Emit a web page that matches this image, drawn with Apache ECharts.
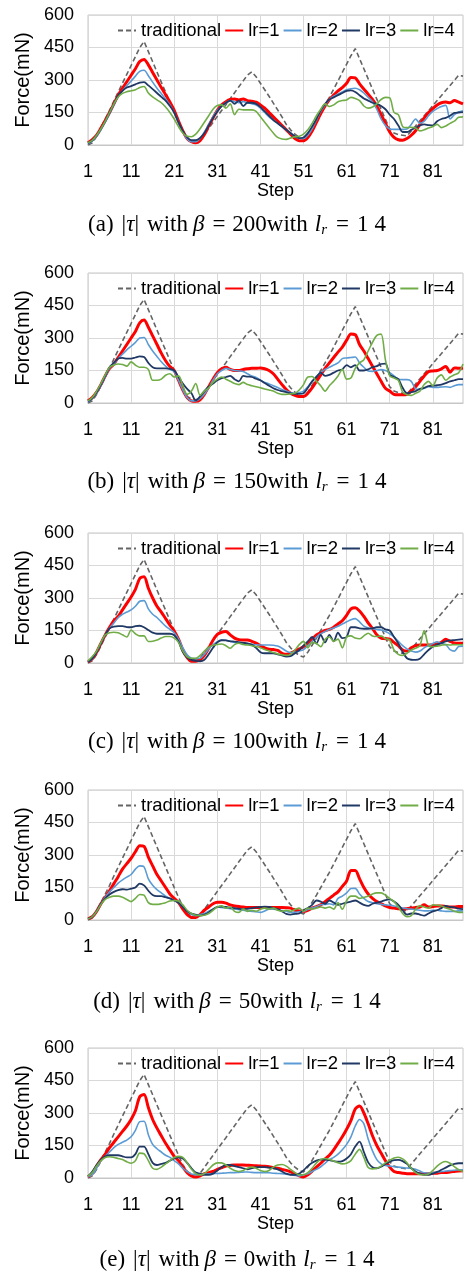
<!DOCTYPE html>
<html><head><meta charset="utf-8">
<script src="https://cdn.jsdelivr.net/npm/echarts@6/dist/echarts.min.js"></script>
<style>html,body{margin:0;padding:0;background:#fff}#c{width:466px;height:1275px}</style>
</head><body><div id="c"></div>
<script>
// ---- data ----
const steps = Array.from({length: 88}, (_, i) => String(i + 1));
const seriesNames = ['traditional', 'lr=1', 'lr=2', 'lr=3', 'lr=4'];
const yTicks = [0, 150, 300, 450, 600];
const panelLetters = ['a', 'b', 'c', 'd', 'e'];
const betas = ['200', '150', '100', '50', '0'];

const traditional = [
0,10,40,80,120,160,203,244,285,326,
367,408,449,478,431,384,337,290,244,197,
150,105,62,30,18,15,22,49,77,104,
132,159,186,214,241,269,296,323,338,315,
285,255,225,193,162,130,95,70,50,35,
28,50,82,115,150,185,220,258,296,335,
373,412,445,398,352,305,258,212,165,118,
75,55,48,45,42,65,88,112,135,158,
182,205,228,252,275,298,322,318];

const a_lr1 = [
10,25,45,78,113,150,190,230,262,292,
322,352,385,395,370,335,300,265,232,198,
160,110,65,30,15,10,20,48,88,125,
160,185,200,210,212,208,212,205,202,198,
185,170,150,130,110,90,70,50,30,20,
20,35,65,105,145,180,210,230,250,265,
285,312,310,282,258,235,210,180,140,100,
60,35,24,22,30,45,66,95,125,150,
168,185,195,198,195,205,198,190];
const a_lr2 = [
5,18,40,70,105,145,185,225,250,275,
295,318,340,345,320,290,262,238,212,185,
150,105,60,28,15,15,30,60,95,130,
160,180,195,205,200,195,200,195,190,185,
170,150,130,115,100,85,70,55,40,30,
30,45,75,115,155,185,210,225,235,245,
255,260,262,255,240,220,200,165,120,90,
74,72,72,72,74,95,120,100,110,135,
155,168,178,183,120,140,152,158];
const a_lr3 = [
8,22,45,75,110,150,190,228,250,265,
272,280,288,290,275,258,240,222,205,180,
150,105,65,35,22,22,32,55,90,125,
155,180,195,205,190,205,180,195,195,190,
175,155,135,115,100,85,70,55,40,32,
35,55,85,120,160,190,210,220,230,240,
250,252,245,230,215,205,195,190,180,165,
140,120,90,60,60,70,80,90,95,92,
90,110,120,125,135,148,150,152];
const a_lr4 = [
10,22,45,75,110,150,190,222,238,246,
250,255,265,270,240,222,208,195,175,150,
120,85,55,40,38,50,75,105,135,165,
182,185,170,190,140,165,162,162,162,155,
130,105,80,55,35,28,26,32,38,40,
50,70,100,135,165,190,178,185,200,205,
208,220,215,205,180,170,175,190,210,220,
218,150,140,85,80,82,78,65,70,78,
85,95,80,88,100,110,128,130];

const b_lr1 = [
10,25,50,85,125,160,180,210,240,270,
300,330,370,383,350,310,270,230,195,168,
150,105,60,25,10,8,15,40,75,110,
140,158,165,155,150,150,155,158,160,160,
162,158,150,135,110,85,62,45,35,30,
30,45,70,100,130,160,185,210,235,258,
290,318,315,270,240,205,170,135,100,68,
55,40,38,38,40,55,75,100,125,145,
148,150,158,168,142,162,160,160];
const b_lr2 = [
5,20,45,80,120,160,180,205,225,245,
262,280,300,302,270,240,215,190,170,155,
145,105,60,25,10,10,20,40,70,105,
135,150,160,155,150,148,145,135,125,118,
105,95,88,80,72,62,55,48,45,48,
55,75,100,123,140,155,165,175,185,205,
208,210,212,185,165,148,146,150,154,150,
140,125,110,108,108,100,65,62,68,75,
72,72,74,75,72,80,85,85];
const b_lr3 = [
8,22,50,85,125,165,185,205,208,205,
205,210,215,212,185,165,160,160,160,158,
150,120,90,65,45,12,30,55,75,90,
105,115,120,125,110,100,125,122,120,112,
105,92,80,68,60,55,50,45,42,42,
45,70,100,120,140,125,130,140,150,155,
175,165,175,150,150,155,165,170,180,182,
130,120,110,70,45,50,55,65,70,78,
80,82,85,92,100,105,110,110];
const b_lr4 = [
10,25,55,90,130,165,175,180,178,170,
190,175,165,165,155,105,105,110,128,135,
120,125,80,40,55,90,35,55,70,95,
110,120,110,100,90,85,95,85,80,75,
70,65,60,55,45,40,40,42,45,60,
85,120,122,100,80,55,80,100,125,155,
110,115,160,185,200,240,280,312,318,200,
125,115,105,50,38,35,45,55,85,100,
80,115,130,105,120,130,140,180];

const c_lr1 = [
5,20,50,90,130,165,195,215,245,275,
305,340,390,398,345,300,262,235,205,175,
148,110,60,25,8,8,15,35,68,105,
132,142,145,130,115,108,106,106,100,92,
80,70,64,62,58,45,40,45,55,65,
75,90,110,130,140,150,155,165,180,195,
220,250,255,240,215,185,160,130,115,112,
110,95,80,60,55,70,80,83,83,83,
85,88,95,110,100,92,91,91];
const c_lr2 = [
5,20,50,90,130,160,185,210,225,235,
245,262,285,288,250,225,210,190,170,155,
140,110,70,38,22,20,22,40,65,85,
98,106,105,100,95,92,90,88,86,84,
83,83,83,82,78,68,55,48,50,55,
62,80,100,120,135,145,155,162,170,180,
190,200,205,190,170,162,158,155,152,145,
135,120,100,80,65,55,50,55,70,80,
90,98,90,85,62,55,76,78];
const c_lr3 = [
5,20,50,90,130,160,168,170,170,166,
165,170,172,165,152,140,135,135,135,135,
128,100,50,25,14,10,8,15,40,70,
95,105,104,100,99,96,93,91,85,70,
50,45,45,45,40,35,30,32,45,60,
80,100,120,90,130,95,130,100,140,115,
120,165,165,160,158,158,160,165,165,155,
150,120,90,50,22,15,14,20,40,60,
75,85,92,100,104,106,108,110];
const c_lr4 = [
10,30,55,95,130,140,142,140,130,120,
152,135,125,125,99,100,106,115,122,122,
115,95,55,28,22,22,35,55,72,82,
85,88,80,68,85,91,85,83,80,76,
70,62,55,48,42,38,35,40,60,85,
100,70,95,90,75,110,120,100,110,70,
120,125,115,112,125,137,125,122,125,112,
106,60,40,35,45,60,68,80,150,80,
75,78,82,85,83,85,84,84];

const d_lr1 = [
5,15,40,75,105,135,168,200,235,260,
285,315,343,340,290,250,210,180,150,120,
100,80,50,25,12,12,25,45,60,75,
82,82,78,70,65,62,60,58,58,58,
58,58,58,58,58,58,57,55,45,42,
40,45,55,62,70,85,100,115,130,155,
180,228,228,190,150,120,100,85,75,65,
58,55,52,50,52,55,58,60,70,60,
62,65,65,62,60,60,62,62];
const d_lr2 = [
5,15,40,75,105,130,150,170,185,198,
210,235,250,245,190,160,140,125,110,100,
90,80,60,40,25,20,25,30,40,50,
60,58,55,52,50,48,45,42,40,38,
35,42,50,50,48,44,40,36,35,38,
40,48,55,62,70,72,75,70,100,110,
125,145,146,120,100,85,80,75,72,70,
68,65,60,55,52,50,48,45,42,42,
45,45,42,40,40,40,42,42];
const d_lr3 = [
5,15,40,75,100,118,130,138,142,140,
145,150,168,160,135,115,110,110,105,100,
90,80,60,40,30,25,20,25,35,50,
60,62,60,57,55,52,50,52,55,58,
60,62,60,55,50,40,28,25,28,30,
45,55,70,90,85,75,90,80,70,75,
80,85,90,80,70,65,75,80,85,92,
95,85,70,45,25,30,30,25,20,30,
40,45,55,65,60,58,52,50];
const d_lr4 = [
5,15,40,72,95,105,110,110,105,95,
85,100,118,115,80,72,72,75,80,88,
90,88,70,45,30,22,20,22,30,45,
60,65,55,60,40,35,50,40,45,40,
50,55,50,55,45,40,45,40,48,55,
40,55,50,55,60,55,60,50,80,50,
90,110,110,100,105,110,120,125,125,115,
100,85,60,30,15,20,50,65,60,55,
70,68,65,55,50,40,35,35];

const e_lr1 = [
5,20,55,85,110,140,165,190,215,240,
270,310,375,385,325,270,230,195,160,130,
100,80,50,25,10,5,10,20,25,30,
40,48,55,58,60,60,60,59,58,56,
55,54,52,48,45,40,35,28,20,10,
5,15,32,50,68,88,105,130,160,190,
225,265,318,332,300,250,195,150,115,80,
50,30,25,22,20,20,20,20,20,20,
22,22,25,25,28,30,32,33];
const e_lr2 = [
5,15,45,80,100,120,140,155,165,175,
190,220,260,262,200,155,135,120,105,95,
80,65,45,30,18,15,15,18,19,20,
21,22,23,25,25,26,27,28,26,25,
25,25,24,22,21,20,18,15,12,10,
15,20,30,40,52,68,85,95,110,130,
155,190,240,270,250,180,125,85,65,58,
55,52,50,48,46,45,40,32,24,22,
24,27,30,32,34,36,37,38];
const e_lr3 = [
8,30,60,85,100,105,105,105,100,95,
95,110,145,145,110,70,60,65,70,80,
90,95,90,70,45,25,20,15,15,20,
35,50,60,60,55,50,45,40,45,50,
50,50,48,45,40,30,20,15,15,20,
35,55,70,80,85,85,82,78,75,78,
90,110,145,168,120,72,50,45,52,65,
75,82,84,78,65,45,30,20,15,15,
20,28,38,48,58,65,68,68];
const e_lr4 = [
8,25,55,80,95,98,95,90,85,75,
68,80,115,112,80,45,40,50,65,80,
95,100,95,70,40,20,15,20,40,60,
70,70,60,45,35,30,35,45,50,45,
35,30,35,50,60,62,55,40,25,15,
15,25,45,70,85,90,85,78,70,65,
68,80,110,132,95,48,42,45,55,70,
82,92,96,88,70,45,25,16,14,18,
35,55,70,76,68,52,38,30];

// ---- build ----
const panels = [
  [traditional, a_lr1, a_lr2, a_lr3, a_lr4],
  [traditional, b_lr1, b_lr2, b_lr3, b_lr4],
  [traditional, c_lr1, c_lr2, c_lr3, c_lr4],
  [traditional, d_lr1, d_lr2, d_lr3, d_lr4],
  [traditional, e_lr1, e_lr2, e_lr3, e_lr4]
];
const gridTops = [15, 273, 533, 790, 1048];
const captionCenters = [225, 482, 742, 1002, 1260];
const colors = ['#646464', '#ff0000', '#5b9bd5', '#203864', '#70ad47'];
const widths = [1.6, 3, 1.6, 1.8, 1.6];
const sans = 'Liberation Sans';
const serif = 'Liberation Serif';

const FS = 23;
function gap(w) { return {width: w, fontSize: FS, fontFamily: serif, lineHeight: 26}; }
const capRich = {
  n: {fontFamily: serif, fontSize: FS, color: '#000', lineHeight: 26},
  i: {fontFamily: serif, fontSize: FS, fontStyle: 'italic', color: '#000', lineHeight: 26},
  s: {fontFamily: serif, fontSize: 15, fontStyle: 'italic', color: '#000', verticalAlign: 'bottom', lineHeight: 18},
  g5: gap(5), g6: gap(6), g7: gap(7), g8: gap(8), g9: gap(9)
};
function caption(i) {
  return '{n|(' + panelLetters[i] + ')}{g8| }{n||}{i|τ}{n||}{g8| }{n|with}{g5| }{i|β}{g8| }{n|=}{g7| }{n|' + betas[i] +
    'with}{g7| }{i|l}{s|r}{g9| }{n|=}{g8| }{n|1}{g6| }{n|4}';
}

const grid = [], xAxis = [], yAxis = [], series = [], legend = [], title = [];
panels.forEach((set, i) => {
  grid.push({left: 88, right: 3, top: gridTops[i], height: 130, show: true,
    borderColor: '#c6c6c6', borderWidth: 1, backgroundColor: 'transparent'});
  xAxis.push({type: 'category', gridIndex: i, data: steps, boundaryGap: false,
    name: 'Step', nameLocation: 'middle', nameGap: 33,
    nameTextStyle: {fontFamily: sans, fontSize: 18, color: '#000'},
    axisLine: {show: true, lineStyle: {color: '#c6c6c6'}},
    axisTick: {show: false},
    axisLabel: {interval: 9, margin: 18, fontFamily: sans, fontSize: 18, color: '#000'},
    splitLine: {show: true, interval: 9, lineStyle: {color: '#d9d9d9', width: 1}}});
  yAxis.push({type: 'value', gridIndex: i, min: yTicks[0], max: yTicks[yTicks.length - 1], interval: 150,
    name: 'Force(mN)', nameLocation: 'middle', nameGap: 50,
    nameTextStyle: {fontFamily: sans, fontSize: 20, color: '#000'},
    axisLine: {show: false}, axisTick: {show: false},
    axisLabel: {margin: 14, fontFamily: sans, fontSize: 18, color: '#000'},
    splitLine: {show: true, lineStyle: {color: '#d9d9d9', width: 1}}});
  set.forEach((vals, k) => {
    series.push({type: 'line', name: seriesNames[k], xAxisIndex: i, yAxisIndex: i,
      data: vals, symbol: 'none', smooth: k === 0 ? false : 0.3,
      lineStyle: {color: colors[k], width: widths[k], type: k === 0 ? [5, 3] : 'solid'},
      itemStyle: {color: colors[k]}, z: 2 + k});
  });
  legend.push({top: gridTops[i] + 6, left: 117, width: 349, padding: 0,
    itemWidth: 18, itemHeight: 10, itemGap: 3,
    data: seriesNames, selectedMode: false,
    itemStyle: {opacity: 0},
    textStyle: {fontFamily: sans, fontSize: 18.5, color: '#000'}});
  title.push({left: 237, top: captionCenters[i] - 13, textAlign: 'center', padding: 0,
    text: caption(i),
    textStyle: {fontFamily: serif, fontSize: FS, fontWeight: 'normal', color: '#000', lineHeight: 26, rich: capRich}});
});

const chart = echarts.init(document.getElementById('c'), null, {renderer: 'canvas'});
chart.setOption({animation: false, backgroundColor: '#fff', title, legend, grid, xAxis, yAxis, series});
</script></body></html>
